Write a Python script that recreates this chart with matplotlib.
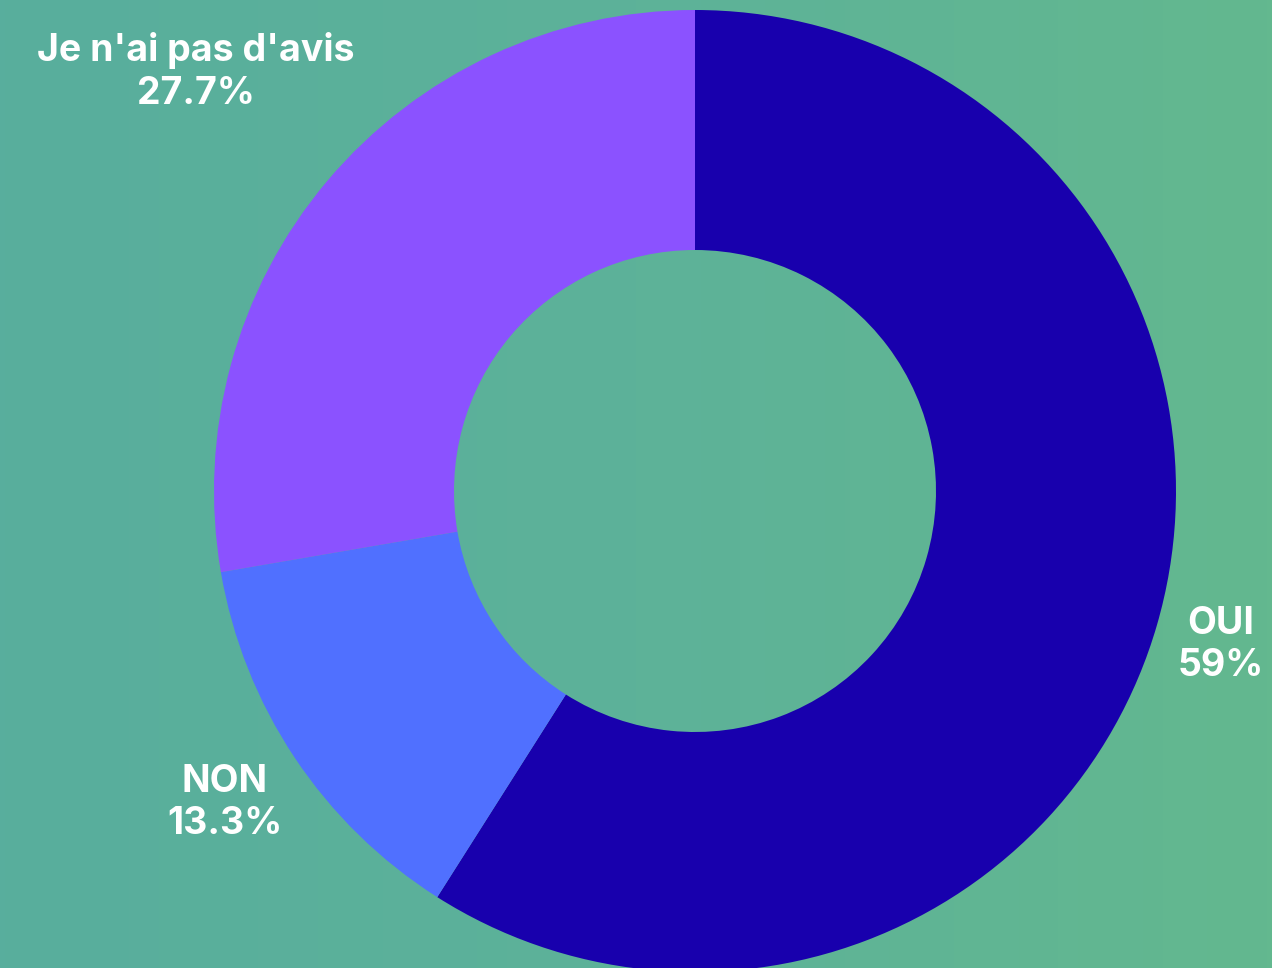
import matplotlib
matplotlib.use("Agg")
import matplotlib.pyplot as plt
import numpy as np
from matplotlib.colors import LinearSegmentedColormap

labels = ["OUI", "NON", "Je n'ai pas d'avis"]
values = [59, 13.3, 27.7]
colors = ["#1800AD", "#5070FF", "#8B52FF"]

W, H = 1272, 968

fig = plt.figure(figsize=(W / 100, H / 100), dpi=100)

# background gradient
bg = fig.add_axes([0, 0, 1, 1], zorder=0)
cmap = LinearSegmentedColormap.from_list("bg", ["#58AE9D", "#5DB299", "#63B88F"])
bg.imshow(np.linspace(0, 1, 256).reshape(1, -1), aspect="auto", cmap=cmap,
          extent=[0, 1, 0, 1])
bg.axis("off")

ax = fig.add_axes([0, 0, 1, 1], zorder=1)
ax.pie(values, colors=colors, startangle=90, counterclock=False,
       center=(695, H - 491), radius=481,
       wedgeprops=dict(width=240, linewidth=0))
# pie resets the limits around its centre, so put them back
ax.set_xlim(0, W)
ax.set_ylim(0, H)
ax.set_aspect("equal")
ax.axis("off")

label_pos = [(1221, H - 645), (225, H - 803), (196, H - 72)]
for lab, val, (x, y) in zip(labels, values, label_pos):
    ax.text(x, y, f"{lab}\n{val:g}%", ha="center", va="center",
            color="white", fontsize=27, fontweight="bold",
            family="Inter", linespacing=1.22)

fig.savefig("out.png", dpi=100)
